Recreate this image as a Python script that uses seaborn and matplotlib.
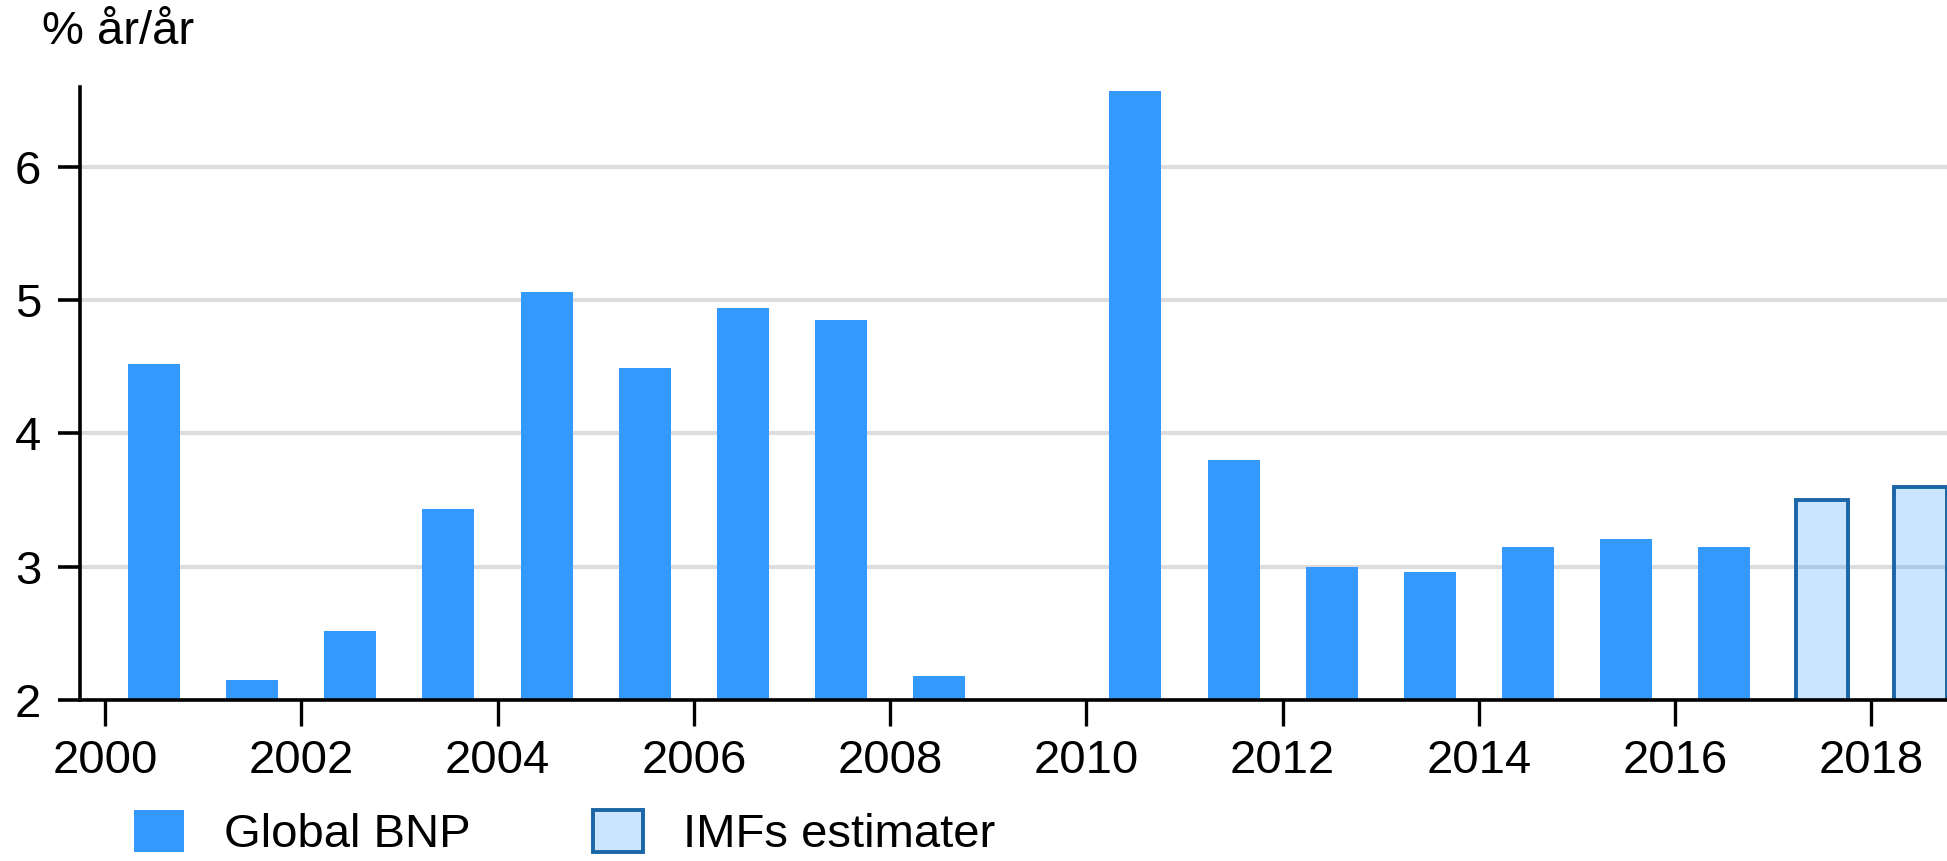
import numpy as np
import pandas as pd
import matplotlib
matplotlib.use("Agg")
import matplotlib.pyplot as plt
from matplotlib.patches import Patch
import seaborn as sns

# global GDP growth, % y/y (2009 is negative and falls below the axis)
years = [2000, 2001, 2002, 2003, 2004, 2005, 2006, 2007, 2008, 2009,
         2010, 2011, 2012, 2013, 2014, 2015, 2016]
growth = [4.52, 2.15, 2.52, 3.43, 5.06, 4.49, 4.94, 4.85, 2.18, -0.1,
          6.57, 3.80, 3.00, 2.96, 3.15, 3.21, 3.15]

# IMF estimates
est_years = [2017, 2018]
est_growth = [3.50, 3.60]

tick_years = list(range(2000, 2019, 2))
labels = ["Global BNP", "IMFs estimater"]
ylabel = "% år/år"

blue = "#3399ff"
light = (0.2, 0.6, 1.0, 0.25)
edge = "#1a66a6"
fs = 34

sns.set_style("white")
plt.rcParams["font.family"] = ["Liberation Sans", "DejaVu Sans"]
plt.rcParams["text.color"] = "black"
plt.rcParams["xtick.color"] = "black"
plt.rcParams["ytick.color"] = "black"

df = pd.DataFrame({"pos": np.array(years) + 0.5, "val": growth})
df_est = pd.DataFrame({"pos": np.array(est_years) + 0.5, "val": est_growth})

fig = plt.figure(figsize=(19.47, 8.61), dpi=100)
ax = fig.add_axes([80 / 1947, 161 / 861, 1 - 80 / 1947, (700 - 87) / 861])

sns.barplot(data=df, x="pos", y="val", native_scale=True, width=0.53,
            color=blue, saturation=1, errorbar=None, linewidth=0, ax=ax)
sns.barplot(data=df_est, x="pos", y="val", native_scale=True, width=0.53,
            color=blue, saturation=1, errorbar=None, ax=ax)
for p in ax.containers[-1]:
    p.set_facecolor(light)
    p.set_edgecolor(edge)
    p.set_linewidth(2.8)

ax.set_ylim(2, 6.6)
ax.set_xlim(1999.745, 2018.77)
ax.set_xticks(tick_years)
ax.set_xticklabels([str(y) for y in tick_years])
ax.set_yticks([2, 3, 4, 5, 6])
ax.set_xlabel("")
ax.set_ylabel("")

ax.yaxis.grid(True, color="#dddddd", linewidth=3)
ax.set_axisbelow(True)
for s in ["top", "right"]:
    ax.spines[s].set_visible(False)
for s in ["left", "bottom"]:
    ax.spines[s].set_color("black")
    ax.spines[s].set_linewidth(2.6)

ax.tick_params(axis="y", direction="out", length=16, width=2.6, pad=12,
               labelsize=fs, left=True)
ax.tick_params(axis="x", direction="out", length=19, width=2.4, pad=9,
               labelsize=fs, bottom=True)

fig.text(42 / 1947, 1 - 10 / 861, ylabel, fontsize=fs, va="top", ha="left")

handles = [Patch(facecolor=blue, edgecolor=blue, linewidth=0),
           Patch(facecolor=light, edgecolor=edge, linewidth=2.8)]
fig.legend(handles, labels, loc="upper left", ncol=2, frameon=False,
           bbox_to_anchor=(134 / 1947, 1 - 810 / 861), fontsize=fs,
           handlelength=1.06, handleheight=1.0, handletextpad=0.84,
           columnspacing=2.6, borderaxespad=0, borderpad=0)

fig.savefig("out.png", dpi=100)
